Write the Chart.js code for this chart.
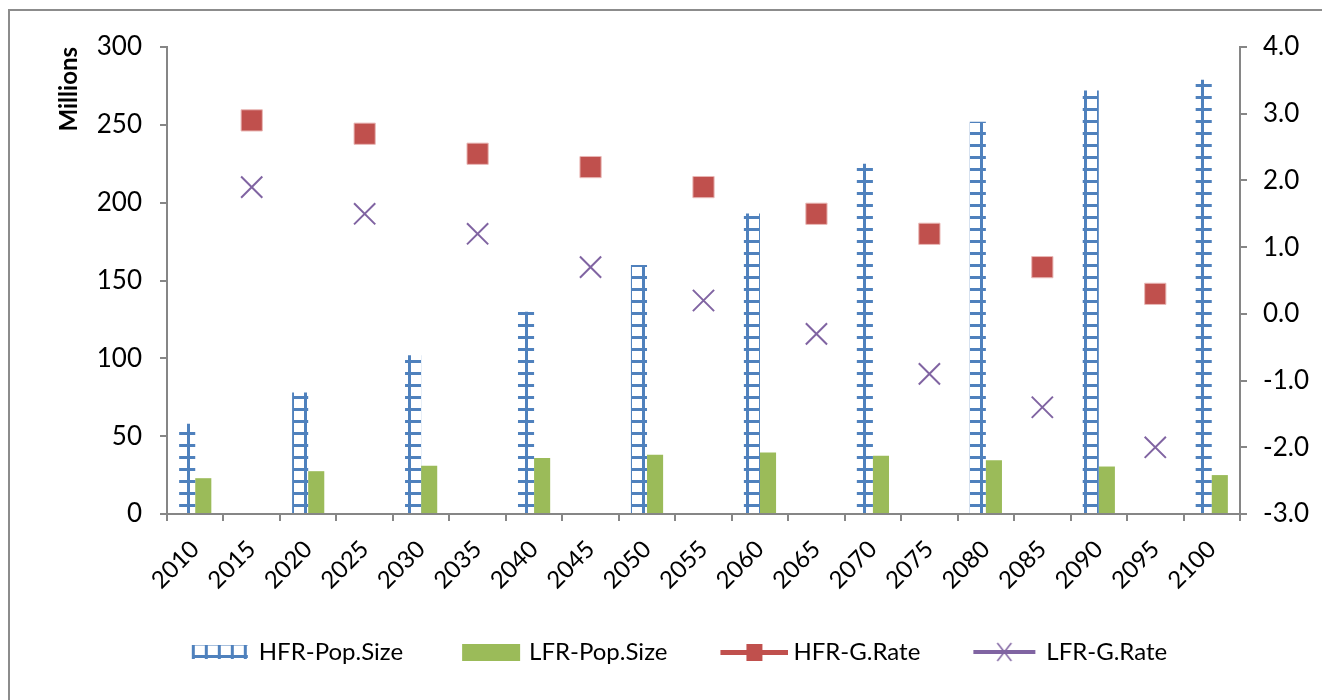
<!DOCTYPE html>
<html>
<head>
<meta charset="utf-8">
<script src="https://cdn.jsdelivr.net/npm/chart.js@4/dist/chart.umd.min.js"></script>
<style>
  html, body { margin: 0; padding: 0; background: #fff; overflow: hidden; }
  #frame { position: absolute; left: 8px; top: 9px; width: 1400px; height: 800px; border: 2px solid #8c8c8c; }
  #wrap { position: absolute; left: 0; top: 0; width: 1322px; height: 700px; }
</style>
</head>
<body>
<div id="frame"></div>
<div id="wrap"><canvas id="myChart"></canvas></div>
<script>
var years = ['2010', '2015', '2020', '2025', '2030', '2035', '2040', '2045', '2050', '2055',
             '2060', '2065', '2070', '2075', '2080', '2085', '2090', '2095', '2100'];
// population (millions), only on the decades
var hfrPop = [58, null, 78, null, 102, null, 130, null, 160, null, 193, null, 225, null, 252, null, 272, null, 279];
var lfrPop = [23, null, 27.5, null, 31, null, 36, null, 38, null, 39.5, null, 37.5, null, 34.5, null, 30.5, null, 25];
// growth rates (%), on the mid points
var hfrRate = [null, 2.9, null, 2.7, null, 2.4, null, 2.2, null, 1.9, null, 1.5, null, 1.2, null, 0.7, null, 0.3, null];
var lfrRate = [null, 1.9, null, 1.5, null, 1.2, null, 0.7, null, 0.2, null, -0.3, null, -0.9, null, -1.4, null, -2.0, null];
var leftTicks = [0, 50, 100, 150, 200, 250, 300];
var rightTicks = [-3, -2, -1, 0, 1, 2, 3, 4];

var blue = '#4F81BD', green = '#9BBB59', red = '#C0504D', purple = '#8064A2', axisGray = '#868686';
var fontFam = 'Lato, "Liberation Sans", sans-serif';

var ctx = document.getElementById('myChart').getContext('2d');

// ladder pattern for the HFR bars
function ladderPattern() {
  var c = document.createElement('canvas');
  c.width = 13; c.height = 12;
  var g = c.getContext('2d');
  g.fillStyle = blue;
  g.fillRect(0, 0, 13, 3);
  g.fillRect(5, 0, 3, 12);
  return ctx.createPattern(c, 'repeat');
}

// legend symbols; the empty left part of each icon widens the gap between items
var OX = 42;
function icon(draw) {
  var c = document.createElement('canvas');
  c.width = 104; c.height = 24;
  draw(c.getContext('2d'));
  return c;
}
var icons = [
  icon(function (g) {
    g.fillStyle = blue;
    g.globalAlpha = 0.5;
    g.fillRect(OX, 5, 56, 1);
    g.globalAlpha = 1;
    g.fillRect(OX, 15, 56, 3);
    for (var i = 0; i < 5; i++) g.fillRect(OX + i * 13, 5, 3, 14);
  }),
  icon(function (g) {
    g.fillStyle = green;
    g.fillRect(OX, 4, 58, 17);
  }),
  icon(function (g) {
    g.fillStyle = red;
    g.fillRect(OX - 6, 10, 68, 5);
    g.fillRect(OX + 20, 4, 16, 17);
  }),
  icon(function (g) {
    g.fillStyle = purple;
    g.fillRect(OX - 6, 10, 62, 4);
    g.strokeStyle = purple;
    g.lineWidth = 1.5;
    g.beginPath();
    g.moveTo(OX + 18, 3); g.lineTo(OX + 32, 21);
    g.moveTo(OX + 32, 3); g.lineTo(OX + 18, 21);
    g.stroke();
  })
];

var myChart = new Chart(ctx, {
  type: 'bar',
  data: {
    labels: years,
    datasets: [{
      label: 'HFR-Pop.Size',
      data: hfrPop,
      backgroundColor: ladderPattern(),
      borderWidth: 0,
      yAxisID: 'y',
      categoryPercentage: 0.57,
      barPercentage: 1,
      order: 3
    }, {
      label: 'LFR-Pop.Size',
      data: lfrPop,
      backgroundColor: green,
      borderWidth: 0,
      yAxisID: 'y',
      categoryPercentage: 0.57,
      barPercentage: 1,
      order: 3
    }, {
      type: 'line',
      label: 'HFR-G.Rate',
      data: hfrRate,
      showLine: false,
      pointStyle: 'rect',
      pointRadius: 15,
      pointBackgroundColor: red,
      pointBorderColor: '#e9b8b6',
      pointBorderWidth: 1,
      yAxisID: 'y2',
      order: 1
    }, {
      type: 'line',
      label: 'LFR-G.Rate',
      data: lfrRate,
      showLine: false,
      pointStyle: 'crossRot',
      pointRadius: 15,
      pointBorderColor: purple,
      pointBorderWidth: 2,
      yAxisID: 'y2',
      order: 1
    }]
  },
  options: {
    responsive: true,
    maintainAspectRatio: false,
    animation: false,
    layout: { padding: { left: 2, right: 0, top: 47, bottom: 26 } },
    plugins: {
      tooltip: { enabled: false },
      legend: {
        position: 'bottom',
        labels: {
          usePointStyle: true,
          pointStyleWidth: 90,
          padding: 24,
          color: '#000',
          font: { family: fontFam, size: 24 },
          generateLabels: function (chart) {
            return chart.data.datasets.map(function (ds, i) {
              return { text: ds.label, pointStyle: icons[i], datasetIndex: i, lineWidth: 0,
                       strokeStyle: 'transparent', fillStyle: 'transparent', fontColor: '#000' };
            });
          }
        }
      }
    },
    scales: {
      x: {
        grid: { offset: true, drawOnChartArea: false, tickLength: 7, color: axisGray, lineWidth: 2 },
        border: { color: axisGray, width: 2 },
        ticks: { color: '#000', font: { family: fontFam, size: 24 }, maxRotation: 45, minRotation: 45, autoSkip: false, padding: 14 },
        afterFit: function (s) { s.height = 102; }
      },
      y: {
        position: 'left',
        min: 0, max: 300,
        afterBuildTicks: function (s) { s.ticks = leftTicks.map(function (v) { return { value: v }; }); },
        grid: { drawOnChartArea: false, tickLength: 7, color: axisGray, lineWidth: 2 },
        border: { color: axisGray, width: 2 },
        ticks: { color: '#000', font: { family: fontFam, size: 26 }, padding: 18 },
        title: { display: true, text: 'Millions', align: 'end', color: '#000', font: { family: fontFam, size: 24, weight: 'bold' }, padding: { top: 53, bottom: 0 } },
        afterFit: function (s) { s.width = 165; }
      },
      y2: {
        position: 'right',
        min: -3, max: 4,
        afterBuildTicks: function (s) { s.ticks = rightTicks.map(function (v) { return { value: v }; }); },
        grid: { drawOnChartArea: false, tickLength: 7, color: axisGray, lineWidth: 2 },
        border: { color: axisGray, width: 2 },
        ticks: { color: '#000', font: { family: fontFam, size: 26 }, padding: 16, callback: function (v) { return Number(v).toFixed(1); } },
        afterFit: function (s) { s.width = 82; }
      }
    }
  }
});
</script>
</body>
</html>
